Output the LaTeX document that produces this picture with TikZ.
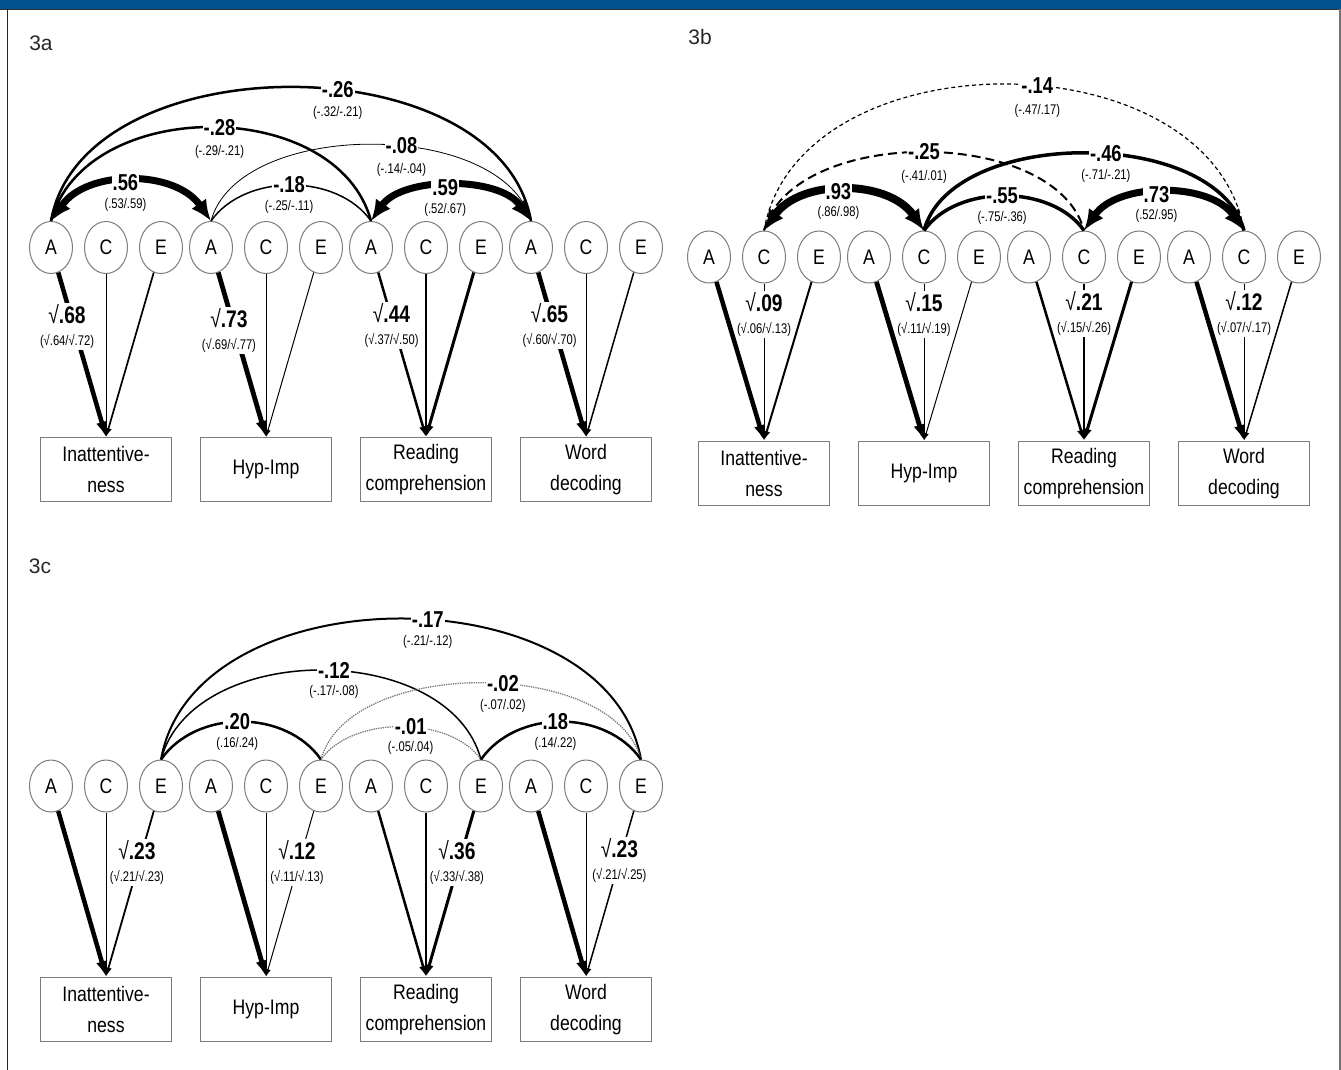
\documentclass[tikz,border=0pt]{standalone}
\usepackage{fontspec}
\setmainfont{Liberation Sans}
\newfontfamily\narrowsans{Liberation Sans}[FakeStretch=0.84]
\newfontfamily\numsans{Liberation Sans}[FakeStretch=0.8]
\usetikzlibrary{arrows.meta,positioning,shapes.geometric}
\definecolor{headerblue}{HTML}{00528E}
\definecolor{rimgrey}{HTML}{7C7C7C}
\definecolor{dotgrey}{HTML}{777777}
\tikzset{
  latent/.style={ellipse,draw=rimgrey,line width=1pt,minimum width=43pt,
    minimum height=52pt,inner sep=0pt,font=\narrowsans\fontsize{21}{21}\selectfont},
  trait/.style={draw=rimgrey,line width=1.3pt,minimum width=131pt,minimum height=64pt,
    inner sep=0pt,align=center,font=\narrowsans\fontsize{21}{31}\selectfont},
  panel/.style={font=\fontsize{21}{21}\selectfont,text=black!85},
  load/.style={line width=#1,-{Latex[length=5pt 2.3]}},
  cov/.style={line width=#1},
  bicov/.style={line width=#1,{Latex[length=21pt,width=18pt]}-{Latex[length=21pt,width=18pt]}},
  coef/.style={fill=white,inner sep=1pt,font=\numsans\bfseries\fontsize{23}{23}\selectfont},
  ci/.style={fill=white,inner sep=1pt,font=\numsans\fontsize{14}{14}\selectfont},
  est/.style={fill=white,inner sep=1.5pt,align=center,font=\numsans\fontsize{14}{22}\selectfont}
}
\newcommand{\bigest}[1]{{\fontsize{24}{24}\selectfont √\textbf{#1}}}

\begin{document}
\begin{tikzpicture}[x=1pt,y=-1pt,node distance=11pt]
\useasboundingbox (0,0) rectangle (1341,1070);
% frame
\fill[headerblue] (0,0) rectangle (1341,9);
\draw[line width=1.5pt,black!80] (0,9.5) -- (1341,9.5);
\draw[line width=1.6pt,black!85] (7.5,9) -- (7.5,1070);
\draw[line width=2pt,black!55] (1340,9) -- (1340,1070);

% ---- 3a: A
\node[panel] (tagA) at (41,43) {3a};
\node[latent] (aA1) at (51,247.5) {A};
\node[latent,right=of aA1] (aC1) {C};
\node[latent,right=of aC1] (aE1) {E};
\node[latent,right=6pt of aE1] (aA2) {A};
\node[latent,right=of aA2] (aC2) {C};
\node[latent,right=of aC2] (aE2) {E};
\node[latent,right=6pt of aE2] (aA3) {A};
\node[latent,right=of aA3] (aC3) {C};
\node[latent,right=of aC3] (aE3) {E};
\node[latent,right=6pt of aE3] (aA4) {A};
\node[latent,right=of aA4] (aC4) {C};
\node[latent,right=of aC4] (aE4) {E};
\node[trait,below=163pt of aC1] (aInatt) {Inattentive-\\ness};
\node[trait,below=163pt of aC2] (aHyp) {Hyp-Imp};
\node[trait,below=163pt of aC3] (aRead) {Reading\\comprehension};
\node[trait,below=163pt of aC4] (aWord) {Word\\decoding};

\draw[load=4.5pt] (aA1) -- node[est,pos=.33,xshift=-7pt] {\bigest{.68}\\(√.64/√.72)} (aInatt.north);
\draw[load=1pt] (aC1) -- (aInatt.north);
\draw[load=1.7pt] (aE1) -- (aInatt.north);
\draw[load=4.8pt] (aA2) -- node[est,pos=.35,xshift=-6pt] {\bigest{.73}\\(√.69/√.77)} (aHyp.north);
\draw[load=1pt] (aC2) -- (aHyp.north);
\draw[load=1pt] (aE2) -- (aHyp.north);
\draw[load=2.5pt] (aA3) -- node[est,pos=.32,xshift=-2pt] {\bigest{.44}\\(√.37/√.50)} (aRead.north);
\draw[load=1.3pt] (aC3) -- (aRead.north);
\draw[load=3pt] (aE3) -- (aRead.north);
\draw[load=4.5pt] (aA4) -- node[est,pos=.32,xshift=-4pt] {\bigest{.65}\\(√.60/√.70)} (aWord.north);
\draw[load=1pt] (aC4) -- (aWord.north);
\draw[load=1.5pt] (aE4) -- (aWord.north);

\draw[cov=2.5pt] (aA1.north) to[out=80,in=100,looseness=.97] node[coef,pos=.57] {-.26} node[ci,pos=.57,yshift=-23pt] {(-.32/-.21)} (aA4.north);
\draw[cov=2.5pt] (aA1.north) to[out=75,in=105,looseness=1.04] node[coef,pos=.52] {-.28} node[ci,pos=.52,yshift=-25pt] {(-.29/-.21)} (aA3.north);
\draw[cov=.8pt] (aA2.north) to[out=75,in=105,looseness=.85] node[coef,pos=.57] {-.08} node[ci,pos=.57,yshift=-24pt] {(-.14/-.04)} (aA4.north);
\draw[bicov=7pt] (aA1.north) to[out=55,in=125,looseness=1.01] node[coef,pos=.47] {.56} node[ci,pos=.47,yshift=-22pt] {(.53/.59)} (aA2.north);
\draw[cov=1.5pt] (aA2.north) to[out=55,in=125,looseness=.94] node[coef,pos=.49] {-.18} node[ci,pos=.49,yshift=-22pt] {(-.25/-.11)} (aA3.north);
\draw[bicov=7pt] (aA3.north) to[out=55,in=125,looseness=.88] node[coef,pos=.47] {.59} node[ci,pos=.47,yshift=-22pt] {(.52/.67)} (aA4.north);

% ---- 3b: C
\node[panel] (tagB) at (700,37) {3b};
\node[latent] (bA1) at (709,257) {A};
\node[latent,right=of bA1] (bC1) {C};
\node[latent,right=of bC1] (bE1) {E};
\node[latent,right=6pt of bE1] (bA2) {A};
\node[latent,right=of bA2] (bC2) {C};
\node[latent,right=of bC2] (bE2) {E};
\node[latent,right=6pt of bE2] (bA3) {A};
\node[latent,right=of bA3] (bC3) {C};
\node[latent,right=of bC3] (bE3) {E};
\node[latent,right=6pt of bE3] (bA4) {A};
\node[latent,right=of bA4] (bC4) {C};
\node[latent,right=of bC4] (bE4) {E};
\node[trait,below=157pt of bC1] (bInatt) {Inattentive-\\ness};
\node[trait,below=157pt of bC2] (bHyp) {Hyp-Imp};
\node[trait,below=157pt of bC3] (bRead) {Reading\\comprehension};
\node[trait,below=157pt of bC4] (bWord) {Word\\decoding};

\draw[load=4.5pt] (bA1) -- (bInatt.north);
\draw[load=1pt] (bC1) -- node[est,pos=.2] {\bigest{.09}\\(√.06/√.13)} (bInatt.north);
\draw[load=2pt] (bE1) -- (bInatt.north);
\draw[load=4.8pt] (bA2) -- (bHyp.north);
\draw[load=1pt] (bC2) -- node[est,pos=.2] {\bigest{.15}\\(√.11/√.19)} (bHyp.north);
\draw[load=1pt] (bE2) -- (bHyp.north);
\draw[load=2.5pt] (bA3) -- (bRead.north);
\draw[load=1.3pt] (bC3) -- node[est,pos=.19] {\bigest{.21}\\(√.15/√.26)} (bRead.north);
\draw[load=3pt] (bE3) -- (bRead.north);
\draw[load=4.5pt] (bA4) -- (bWord.north);
\draw[load=1pt] (bC4) -- node[est,pos=.19] {\bigest{.12}\\(√.07/√.17)} (bWord.north);
\draw[load=1.5pt] (bE4) -- (bWord.north);

\draw[cov=1.2pt,dash pattern=on 4pt off 3pt] (bC1.north) to[out=80,in=100,looseness=1.06] node[coef,pos=.55] {-.14} node[ci,pos=.55,yshift=-25pt] {(-.47/.17)} (bC4.north);
\draw[cov=2pt,dash pattern=on 9pt off 5pt] (bC1.north) to[out=75,in=105,looseness=.87] node[coef,pos=.5] {-.25} node[ci,pos=.5,yshift=-25pt] {(-.41/.01)} (bC3.north);
\draw[cov=3.5pt] (bC2.north) to[out=75,in=105,looseness=.86] node[coef,pos=.55] {-.46} node[ci,pos=.55,yshift=-22pt] {(-.71/-.21)} (bC4.north);
\draw[bicov=8pt] (bC1.north) to[out=55,in=125,looseness=1.01] node[coef,pos=.47] {.93} node[ci,pos=.47,yshift=-21pt] {(.86/.98)} (bC2.north);
\draw[cov=3.5pt] (bC2.north) to[out=55,in=125,looseness=.91] node[coef,pos=.49] {-.55} node[ci,pos=.49,yshift=-22pt] {(-.75/-.36)} (bC3.north);
\draw[bicov=7pt] (bC3.north) to[out=55,in=125,looseness=.95] node[coef,pos=.46] {.73} node[ci,pos=.46,yshift=-22pt] {(.52/.95)} (bC4.north);

% ---- 3c: E
\node[panel] (tagC) at (40,566) {3c};
\node[latent] (cA1) at (51,786) {A};
\node[latent,right=of cA1] (cC1) {C};
\node[latent,right=of cC1] (cE1) {E};
\node[latent,right=6pt of cE1] (cA2) {A};
\node[latent,right=of cA2] (cC2) {C};
\node[latent,right=of cC2] (cE2) {E};
\node[latent,right=6pt of cE2] (cA3) {A};
\node[latent,right=of cA3] (cC3) {C};
\node[latent,right=of cC3] (cE3) {E};
\node[latent,right=6pt of cE3] (cA4) {A};
\node[latent,right=of cA4] (cC4) {C};
\node[latent,right=of cC4] (cE4) {E};
\node[trait,below=164pt of cC1] (cInatt) {Inattentive-\\ness};
\node[trait,below=164pt of cC2] (cHyp) {Hyp-Imp};
\node[trait,below=164pt of cC3] (cRead) {Reading\\comprehension};
\node[trait,below=164pt of cC4] (cWord) {Word\\decoding};

\draw[load=4.5pt] (cA1) -- (cInatt.north);
\draw[load=1pt] (cC1) -- (cInatt.north);
\draw[load=1.8pt] (cE1) -- node[est,pos=.31,xshift=-2pt] {\bigest{.23}\\(√.21/√.23)} (cInatt.north);
\draw[load=4.8pt] (cA2) -- (cHyp.north);
\draw[load=1pt] (cC2) -- (cHyp.north);
\draw[load=1pt] (cE2) -- node[est,pos=.31,xshift=-2pt] {\bigest{.12}\\(√.11/√.13)} (cHyp.north);
\draw[load=2.5pt] (cA3) -- (cRead.north);
\draw[load=1.3pt] (cC3) -- (cRead.north);
\draw[load=3pt] (cE3) -- node[est,pos=.31,xshift=-2pt] {\bigest{.36}\\(√.33/√.38)} (cRead.north);
\draw[load=4.5pt] (cA4) -- (cWord.north);
\draw[load=1pt] (cC4) -- (cWord.north);
\draw[load=1.5pt] (cE4) -- node[est,pos=.3] {\bigest{.23}\\(√.21/√.25)} (cWord.north);

\draw[cov=2pt] (cE1.north) to[out=80,in=100,looseness=1.02] node[coef,pos=.54] {-.17} node[ci,pos=.54,yshift=-22pt] {(-.21/-.12)} (cE4.north);
\draw[cov=1.5pt] (cE1.north) to[out=75,in=105,looseness=.99] node[coef,pos=.53] {-.12} node[ci,pos=.53,yshift=-22pt] {(-.17/-.08)} (cE3.north);
\draw[cov=1.3pt,densely dotted,dotgrey] (cE2.north) to[out=75,in=105,looseness=.85] node[coef,text=black,pos=.55] {-.02} node[ci,text=black,pos=.55,yshift=-22pt] {(-.07/.02)} (cE4.north);
\draw[cov=2.5pt] (cE1.north) to[out=55,in=125,looseness=.99] node[coef,pos=.48] {.20} node[ci,pos=.48,yshift=-22pt] {(.16/.24)} (cE2.north);
\draw[cov=1.3pt,densely dotted,dotgrey] (cE2.north) to[out=55,in=125,looseness=.86] node[coef,text=black,pos=.55] {-.01} node[ci,text=black,pos=.55,yshift=-21pt] {(-.05/.04)} (cE3.north);
\draw[cov=2.5pt] (cE3.north) to[out=55,in=125,looseness=.99] node[coef,pos=.47] {.18} node[ci,pos=.47,yshift=-22pt] {(.14/.22)} (cE4.north);
\end{tikzpicture}
\end{document}
